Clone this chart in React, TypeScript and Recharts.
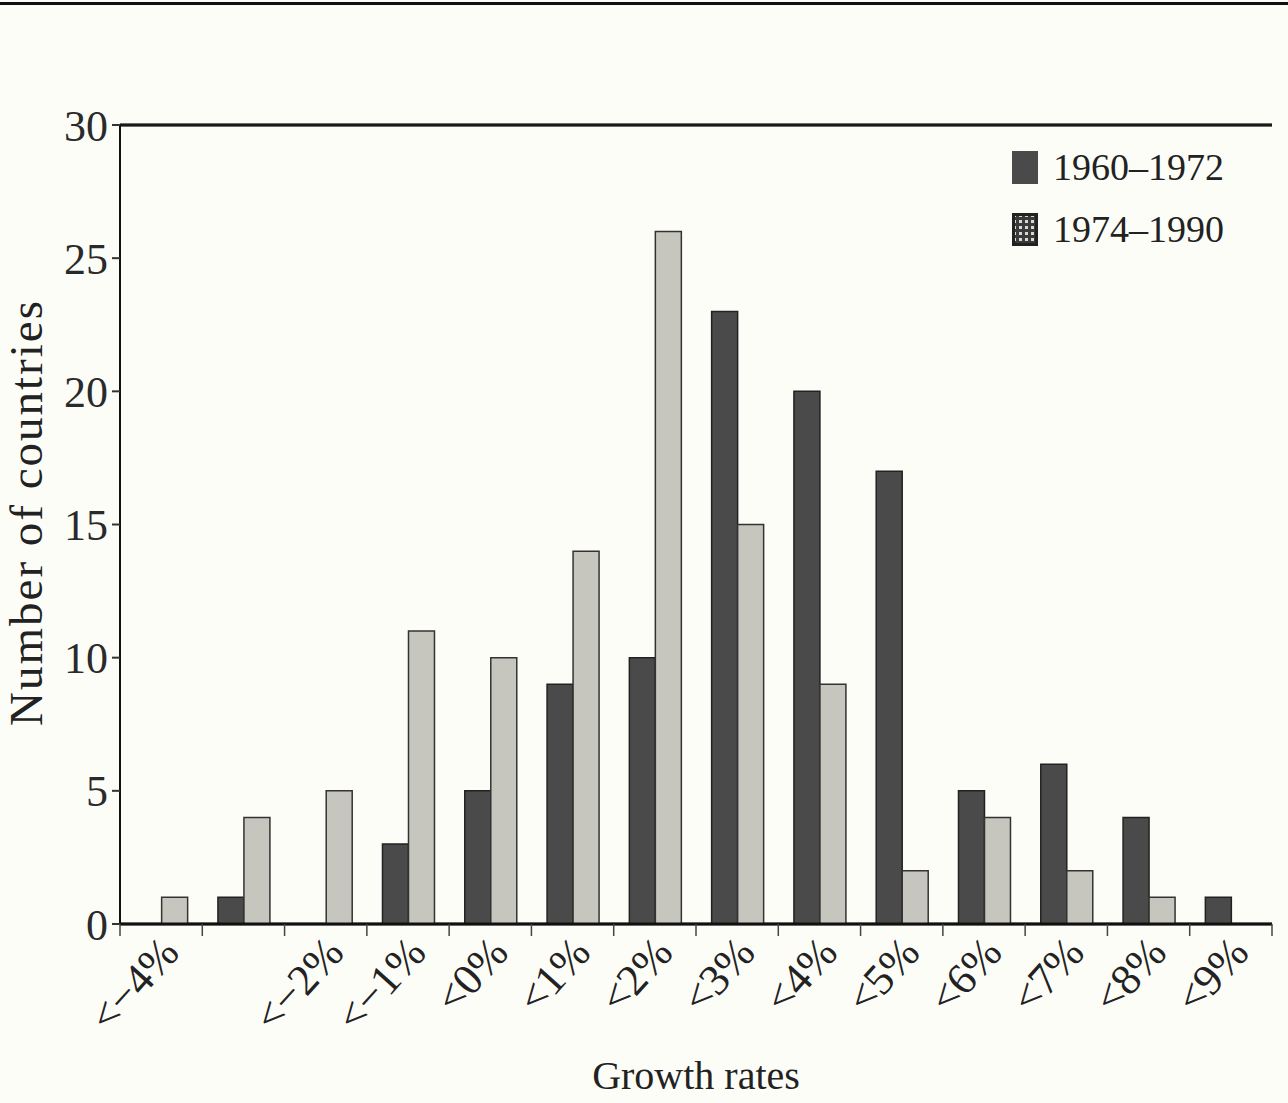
import React from 'react';
import { BarChart, Bar, XAxis, YAxis, CartesianGrid, ReferenceLine, Legend } from 'recharts';

const categories = ['<−4%', '<−3%', '<−2%', '<−1%', '<0%', '<1%', '<2%', '<3%', '<4%', '<5%', '<6%', '<7%', '<8%', '<9%'];
const tickLabels = ['<−4%', '', '<−2%', '<−1%', '<0%', '<1%', '<2%', '<3%', '<4%', '<5%', '<6%', '<7%', '<8%', '<9%'];
const series1960 = [0, 1, 0, 3, 5, 9, 10, 23, 20, 17, 5, 6, 4, 1];
const series1974 = [1, 4, 5, 11, 10, 14, 26, 15, 9, 2, 4, 2, 1, 0];
const yTicks = [0, 5, 10, 15, 20, 25, 30];
const seriesNames = ['1960–1972', '1974–1990'];

const data = categories.map((c, i) => ({
  cat: c,
  label: tickLabels[i],
  a: series1960[i],
  b: series1974[i],
}));

const FONT = '"Liberation Serif", "Times New Roman", serif';
const DARK = '#4a4a4a';
const LIGHT = '#c6c6be';

const XTick = (props: any) => {
  const { x, y, payload, index } = props;
  const off = payload && typeof payload.offset === 'number' ? payload.offset : 0;
  const label = tickLabels[index] ?? '';
  const isLast = index === categories.length - 1;
  const ax = x + 20;
  const ay = y + 30;
  return (
    <g>
      <line x1={x - off} x2={x - off} y1={y} y2={y + 12} stroke="#444" strokeWidth={1.5} />
      {isLast && <line x1={x + off} x2={x + off} y1={y} y2={y + 12} stroke="#444" strokeWidth={1.5} />}
      <text
        x={ax}
        y={ay}
        transform={`rotate(-48, ${ax}, ${ay})`}
        textAnchor="end"
        fontFamily={FONT}
        fontSize={44}
        fill="#222"
      >
        {label}
      </text>
    </g>
  );
};

const YLabel = (props: any) => {
  const vb = props.viewBox || { x: 0, y: 0, width: 0, height: 0 };
  const cx = vb.x + 42;
  const cy = vb.y + vb.height / 2 - 12;
  return (
    <text
      x={cx}
      y={cy}
      transform={`rotate(-90, ${cx}, ${cy})`}
      textAnchor="middle"
      fontFamily={FONT}
      fontSize={47}
      letterSpacing={2}
      fill="#222"
    >
      Number of countries
    </text>
  );
};

const LegendContent = () => (
  <div style={{ fontFamily: FONT, fontSize: 38, color: '#222', lineHeight: 1 }}>
    {seriesNames.map((n, i) => (
      <div key={n} style={{ display: 'flex', alignItems: 'center', height: 62 }}>
        <svg width={26} height={33} style={{ display: 'block' }}>
          <defs>
            <pattern id="speck" width="6" height="6" patternUnits="userSpaceOnUse">
              <rect width="6" height="6" fill="#3a3a3a" />
              <rect x="1" y="1" width="3" height="3" fill="#d8d8d0" />
            </pattern>
          </defs>
          {i === 0 ? (
            <rect x={0} y={0} width={26} height={33} fill={DARK} />
          ) : (
            <rect x={1.5} y={1.5} width={23} height={30} fill="url(#speck)" stroke="#222" strokeWidth={3} />
          )}
        </svg>
        <span style={{ marginLeft: 15 }}>{n}</span>
      </div>
    ))}
  </div>
);

export default function App() {
  return (
    <div style={{ position: 'absolute', left: 0, top: 0, width: 1288, height: 1103, background: '#fdfdf8', overflow: 'hidden' }}>
      <div style={{ position: 'absolute', left: 0, top: 2, width: 1288, height: 3, background: '#111' }} />
      <BarChart
        width={1288}
        height={1103}
        data={data}
        margin={{ top: 125, right: 16, bottom: 0, left: 0 }}
        barCategoryGap="19%"
        barGap={0}
      >
        <CartesianGrid vertical={false} stroke="#8a8a8a" strokeWidth={3} />
        <XAxis
          dataKey="cat"
          height={179}
          tick={<XTick />}
          tickLine={false}
          tickSize={0}
          tickMargin={0}
          interval={0}
          axisLine={{ stroke: '#111', strokeWidth: 3 }}
          label={{ value: 'Growth rates', position: 'insideBottom', offset: 14, fontFamily: FONT, fontSize: 40, fill: '#222' }}
        />
        <YAxis
          yAxisId="left"
          width={120}
          domain={[0, 30]}
          ticks={yTicks}
          interval={0}
          tickSize={8}
          tickMargin={4}
          tickLine={{ stroke: '#333', strokeWidth: 2 }}
          axisLine={{ stroke: '#111', strokeWidth: 2 }}
          tick={{ fontFamily: FONT, fontSize: 44, fill: '#2a2a2a' }}
          label={<YLabel />}
        />
        <YAxis
          yAxisId="right"
          orientation="right"
          width={0}
          domain={[0, 30]}
          tick={false}
          tickLine={false}
          axisLine={{ stroke: '#333', strokeWidth: 2 }}
        />
        <ReferenceLine yAxisId="left" y={30} stroke="#1a1a1a" strokeWidth={3} />
        <Legend
          layout="vertical"
          align="center"
          verticalAlign="middle"
          content={<LegendContent />}
          wrapperStyle={{ left: 1012, top: 136, width: 260 }}
        />
        <Bar yAxisId="left" dataKey="a" name={seriesNames[0]} fill={DARK} stroke="#222" strokeWidth={1.5} isAnimationActive={false} />
        <Bar yAxisId="left" dataKey="b" name={seriesNames[1]} fill={LIGHT} stroke="#333" strokeWidth={1.5} isAnimationActive={false} />
      </BarChart>
    </div>
  );
}
